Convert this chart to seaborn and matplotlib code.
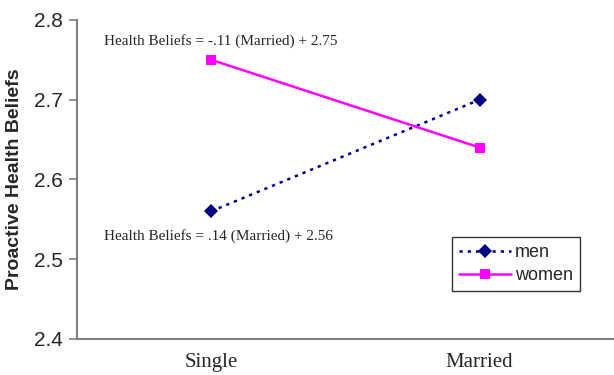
import pandas as pd
import matplotlib.pyplot as plt
import seaborn as sns

# data
status = ['Single', 'Married']
men = [2.56, 2.70]
women = [2.75, 2.64]
yticks = [2.4, 2.5, 2.6, 2.7, 2.8]

df = pd.DataFrame({
    'status': status * 2,
    'score': men + women,
    'group': ['men'] * 2 + ['women'] * 2,
})

sns.set_style('white')
plt.rcParams['font.family'] = ['Liberation Sans', 'DejaVu Sans']

fig = plt.figure(figsize=(6.14, 3.75), dpi=100)
ax = fig.add_axes([0.125, 0.096, 0.875, 0.851])

sns.lineplot(data=df, x='status', y='score', hue='group', style='group',
             palette={'men': '#000080', 'women': '#FF00FF'},
             markers={'men': 'D', 'women': 's'},
             dashes={'men': (1.3, 2.0), 'women': ''},
             markersize=7.5, linewidth=1.8, markeredgewidth=0, ax=ax)

ax.set_xlim(-0.5, 1.5)
ax.set_ylim(2.4, 2.8)
ax.set_yticks(yticks)
ax.set_yticklabels([f'{v:.1f}' for v in yticks], fontsize=15)
ax.set_xticks(range(len(status)))
ax.set_xticklabels(status, family='Liberation Serif', fontsize=15)
ax.tick_params(axis='y', direction='out', length=6, width=1.2, color='#808080', pad=4, left=True)
ax.tick_params(axis='x', length=0, pad=10)
ax.set_xlabel('')
ax.set_ylabel('Proactive Health Beliefs', fontsize=14, fontweight='bold', labelpad=8)

for s in ['top', 'right']:
    ax.spines[s].set_visible(False)
for s in ['left', 'bottom']:
    ax.spines[s].set_color('#808080')
    ax.spines[s].set_linewidth(1.5)

ax.text(0.05, 2.774, 'Health Beliefs = -.11 (Married) + 2.75', transform=ax.get_yaxis_transform(),
        family='Liberation Serif', fontsize=11, va='center')
ax.text(0.05, 2.529, 'Health Beliefs = .14 (Married) + 2.56', transform=ax.get_yaxis_transform(),
        family='Liberation Serif', fontsize=11, va='center')

leg = ax.legend(loc='upper left', bbox_to_anchor=(0.698, 0.319), fontsize=13, frameon=True,
                fancybox=False, edgecolor='black', handlelength=2.9, borderpad=0.4,
                labelspacing=0.3, handletextpad=0.2, borderaxespad=0)
leg.get_frame().set_linewidth(1.0)

fig.savefig('out.png', dpi=100)
